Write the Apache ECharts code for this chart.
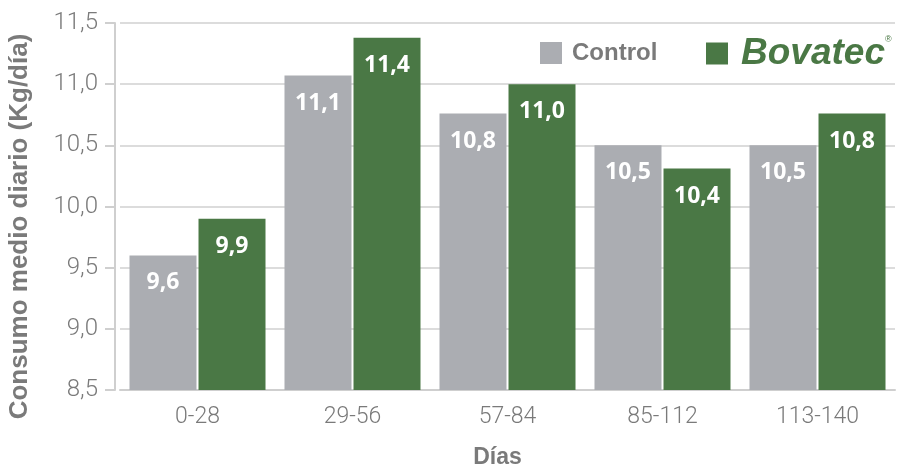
<!DOCTYPE html>
<html>
<head>
<meta charset="utf-8">
<script src="https://cdn.jsdelivr.net/npm/echarts@6/dist/echarts.min.js"></script>
<style>
  html, body { margin: 0; padding: 0; background: #fff; }
  #chart { width: 898px; height: 466px; }
</style>
</head>
<body>
<div id="chart"></div>
<script>
// categories and values
const dias = ['0-28', '29-56', '57-84', '85-112', '113-140']
const control = [9.6, 11.07, 10.76, 10.5, 10.5]
const bovatec = [9.9, 11.38, 11.0, 10.31, 10.76]
const controlLabels = ['9,6', '11,1', '10,8', '10,5', '10,5']
const bovatecLabels = ['9,9', '11,4', '11,0', '10,4', '10,8']

const gris = '#abadb2'
const verde = '#4a7845'
const texto = '#7a7a7a'
const fuenteEje = "Roboto, 'DejaVu Sans Condensed', sans-serif"

let chart = echarts.init(document.getElementById('chart'))

let barLabel = (labels) => ({
  show: true,
  position: 'insideTop',
  distance: 16,
  color: '#fff',
  fontFamily: 'Open Sans',
  fontWeight: 'bold',
  fontSize: 23,
  formatter: p => labels[p.dataIndex]
})

let legendBase = {
  itemWidth: 22,
  itemHeight: 22,
  icon: 'rect'
}

let option = {
  backgroundColor: '#fff',
  animation: false,
  grid: {
    left: 120,
    right: 3,
    top: 23,
    bottom: 76,
    outerBoundsMode: 'none',
    containLabel: false
  },
  legend: [
    Object.assign({}, legendBase, {
      left: 535,
      top: 36,
      data: ['Control'],
      textStyle: {
        fontFamily: 'Liberation Sans',
        fontWeight: 'bold',
        fontSize: 24,
        color: texto,
        padding: [0, 0, 0, 5]
      }
    }),
    Object.assign({}, legendBase, {
      left: 701,
      top: 30,
      data: ['Bovatec'],
      formatter: '{b|Bovatec}{r|®}',
      textStyle: {
        rich: {
          b: { fontFamily: 'Liberation Sans', fontWeight: 'bold', fontStyle: 'italic', fontSize: 37, color: verde, padding: [0, 0, 0, 8] },
          r: { fontFamily: 'Liberation Sans', fontSize: 9, color: verde, verticalAlign: 'top', padding: [0, 0, 22, 0] }
        }
      }
    })
  ],
  xAxis: {
    type: 'category',
    data: dias,
    name: 'Días',
    nameLocation: 'middle',
    nameGap: 56,
    nameTextStyle: {
      fontFamily: 'Liberation Sans',
      fontWeight: 'bold',
      fontSize: 23,
      color: texto,
      padding: [0, 20, 0, 0]
    },
    axisLine: { lineStyle: { color: '#cfcfcf', width: 2 } },
    axisTick: { show: false },
    axisLabel: {
      margin: 16,
      fontFamily: fuenteEje,
      fontWeight: 300,
      fontSize: 23,
      color: texto
    }
  },
  yAxis: {
    type: 'value',
    min: 8.5,
    max: 11.5,
    interval: 0.5,
    offset: 5,
    name: 'Consumo medio diario (Kg/día)',
    nameLocation: 'middle',
    nameGap: 82,
    nameTextStyle: {
      fontFamily: 'Liberation Sans',
      fontWeight: 'bold',
      fontSize: 26,
      color: texto,
      padding: [0, 40, 0, 0]
    },
    axisLine: { show: true, lineStyle: { color: '#cfcfcf', width: 2 } },
    axisTick: { show: true, length: 10, lineStyle: { color: '#cfcfcf', width: 2 } },
    axisLabel: {
      margin: 17,
      fontFamily: fuenteEje,
      fontWeight: 300,
      fontSize: 24,
      color: texto,
      formatter: v => v.toFixed(1).replace('.', ',')
    },
    splitLine: { lineStyle: { color: '#dcdcdc', width: 2 } }
  },
  series: [
    {
      name: 'Control',
      type: 'bar',
      barWidth: 67,
      barGap: '3%',
      itemStyle: { color: gris },
      label: barLabel(controlLabels),
      data: control
    },
    {
      name: 'Bovatec',
      type: 'bar',
      barWidth: 67,
      itemStyle: { color: verde },
      label: barLabel(bovatecLabels),
      data: bovatec
    }
  ]
}
chart.setOption(option)
</script>
</body>
</html>
